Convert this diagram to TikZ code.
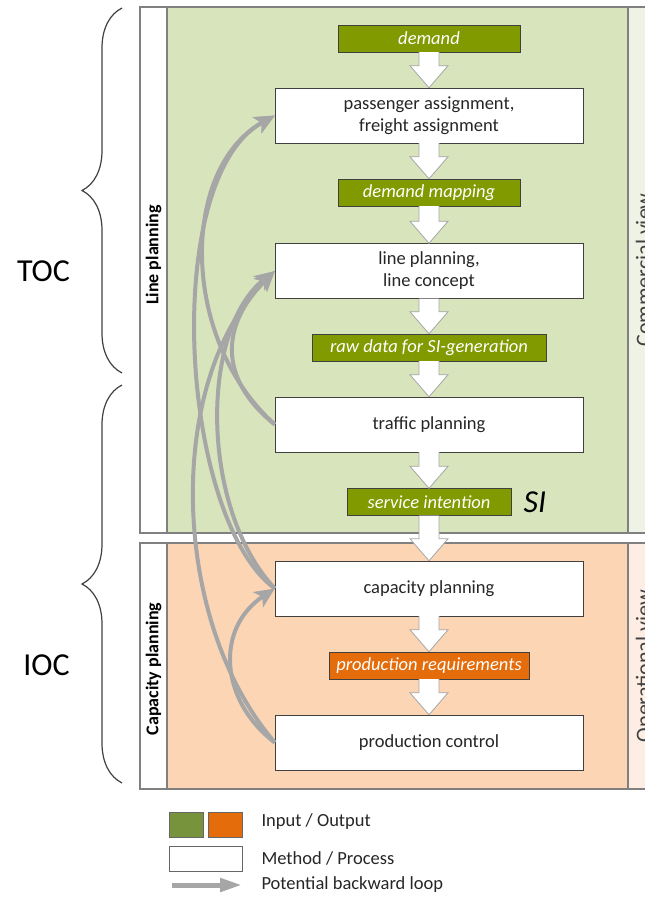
\documentclass[tikz,border=0pt]{standalone}
\usepackage{fontspec}
\setmainfont{Carlito}
\usetikzlibrary{arrows.meta,calc,positioning,decorations.pathreplacing}
\definecolor{lineplan}{RGB}{216,228,188}
\definecolor{capplan}{RGB}{252,213,180}
\definecolor{comview}{RGB}{238,243,229}
\definecolor{opview}{RGB}{253,237,226}
\definecolor{ioolive}{RGB}{128,154,0}
\definecolor{ioorange}{RGB}{228,108,10}
\definecolor{legolive}{RGB}{119,147,60}
\definecolor{loopgray}{RGB}{166,166,166}
\tikzset{
  box/.style={draw=black!75, align=center, font=\fontsize{18.5}{22}\selectfont, text=black!85},
  kprocess/.style={box, fill=white, minimum width=308pt, minimum height=55pt},
  kinput/.style={box, fill=ioolive, text=white, minimum height=27pt, font=\fontsize{18.5}{22}\selectfont\itshape},
  koutput/.style={kinput, fill=ioorange},
  klabel/.style={rotate=90, font=\fontsize{18}{20}\selectfont\bfseries},
  kview/.style={rotate=90, anchor=base, text=black!75, font=\fontsize{22}{24}\selectfont},
  kframe/.style={draw=black!50, line width=1.2pt},
  flow/.style={draw=black!35, fill=white, line width=0.8pt},
  backflow/.style={draw=loopgray, line width=4pt, -{Stealth[length=20pt,width=18pt,inset=5pt]}},
  curly/.style={decorate, decoration={brace, amplitude=40pt}, draw=black!75, line width=1.2pt},
  legend/.style={anchor=west, font=\fontsize{18.5}{22}\selectfont, text=black!85},
}
% hollow block arrow from the bottom of one box to the top of the next
\newcommand{\blockflow}[2]{%
  \filldraw[flow] let \p1=(#1.south), \p2=(#2.north) in
    (\x2+10pt,\y1) -- (\x2+10pt,\y2+22pt) -- (\x2+19pt,\y2+22pt) -- (\x2,\y2)
    -- (\x2-19pt,\y2+22pt) -- (\x2-10pt,\y2+22pt) -- (\x2-10pt,\y1);}

\begin{document}
\begin{tikzpicture}[x=1pt, y=-1pt]
  \path[use as bounding box] (0,0) rectangle (645,902);
  \clip (0,0) rectangle (645,902);

  % line planning band
  \fill[lineplan] (167,7) rectangle (628,533);
  \fill[comview] (628,7) rectangle (660,533);
  \fill[white] (140,7) rectangle (167,533);
  \draw[kframe] (660,7) -- (140,7) -- (140,533) -- (660,533);
  \draw[kframe] (167,7) -- (167,533) (628,7) -- (628,533);
  \node[klabel] (lplabel) at (153.5,255) {Line planning};
  \node[kview] (comlabel) at (651,270) {Commercial view};

  % capacity planning band
  \fill[capplan] (167,543) rectangle (628,789);
  \fill[opview] (628,543) rectangle (660,789);
  \fill[white] (140,543) rectangle (167,789);
  \draw[kframe] (660,543) -- (140,543) -- (140,789) -- (660,789);
  \draw[kframe] (167,543) -- (167,789) (628,543) -- (628,789);
  \node[klabel] (cplabel) at (153.5,669) {Capacity planning};
  \node[kview] (oplabel) at (651,666) {Operational view};

  % TOC / IOC
  \draw[curly] (122,373) -- (122,8);
  \draw[curly] (122,783) -- (122,385);
  \node[font=\fontsize{32}{32}\selectfont] (toc) at (43.5,271) {TOC};
  \node[font=\fontsize{32}{32}\selectfont] (ioc) at (46.5,665) {IOC};

  % planning chain
  \node[kinput, minimum width=182pt] (demand) at (429,38.5) {demand};
  \node[kprocess] (assign) at (429,115.5) {passenger assignment,\\freight assignment};
  \node[kinput, minimum width=182pt] (mapping) at (429,192.5) {demand mapping};
  \node[kprocess] (lineplan) at (429,271) {line planning,\\line concept};
  \node[kinput, minimum width=234pt] (rawdata) at (429,347.5) {raw data for SI-generation};
  \node[kprocess] (traffic) at (429,424.5) {traffic planning};
  \node[kinput, minimum width=164pt] (intention) at (429,502) {service intention};
  \node[font=\fontsize{32}{32}\selectfont\itshape, right=9pt of intention] (si) {SI};
  \node[kprocess] (capacity) at (429,588.5) {capacity planning};
  \node[koutput, minimum width=200pt] (prodreq) at (429,665.5) {production requirements};
  \node[kprocess] (control) at (429,742.5) {production control};

  \foreach \a/\b in {demand/assign, assign/mapping, mapping/lineplan, lineplan/rawdata,
      rawdata/traffic, traffic/intention, intention/capacity, capacity/prodreq, prodreq/control}
    \blockflow{\a}{\b};

  % backward loops
  \draw[backflow] (traffic.west) .. controls +(-56,-45) and +(-55,55) .. (lineplan.west);
  \draw[backflow] (traffic.west) .. controls +(-95,-85) and +(-95,53) .. (assign.west);
  \draw[backflow] (capacity.west) .. controls +(-95,-70) and +(-115,63) .. (assign.west);
  \draw[backflow] (capacity.west) .. controls +(-75,-80) and +(-75,59) .. (lineplan.west);
  \draw[backflow] (control.west) .. controls +(-105,-122) and +(-110,109) .. (lineplan.west);
  \draw[backflow] (control.west) .. controls +(-55,-42) and +(-60,40) .. (capacity.west);

  % legend
  \node[draw=black!60, fill=legolive, minimum width=34pt, minimum height=25pt, inner sep=0pt] (leggreen) at (186,824.5) {};
  \node[draw=black!60, fill=ioorange, minimum width=34pt, minimum height=25pt, inner sep=0pt] (legorange) at (225.5,824.5) {};
  \node[draw=black!60, fill=white, minimum width=73pt, minimum height=25pt, inner sep=0pt] (legwhite) at (205.5,858.5) {};
  \coordinate (legfrom) at (172,885);
  \coordinate (legto) at (242,885);
  \draw[draw=loopgray, line width=5pt, -{Triangle[length=22pt,width=13pt]}] (legfrom) -- (legto);
  \node[legend] (legio) at (258,822) {Input / Output};
  \node[legend] (legmp) at (258,858) {Method / Process};
  \node[legend] (legbl) at (258,885) {Potential backward loop};
\end{tikzpicture}
\end{document}
